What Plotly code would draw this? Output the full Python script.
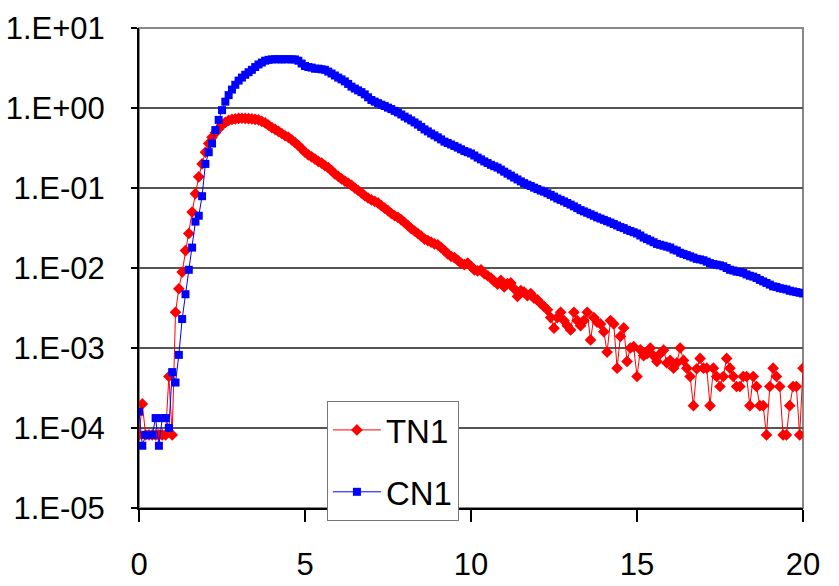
import plotly.graph_objects as go

# sampling grid (time, step 0.1 from 0 to 20)
time = [round(0.1 * i, 1) for i in range(201)]

tn1 = [
    8.2e-5, 2.0e-4, 8.2e-5, 8.2e-5, 8.2e-5, 8.2e-5, 8.2e-5, 8.2e-5, 8.2e-5, 4.4e-4,
    8.2e-5, 2.8e-3, 5.5e-3, 8.9e-3, 1.65e-2, 2.7e-2, 5.0e-2, 8.5e-2, 0.138, 0.2,
    0.28, 0.36, 0.43, 0.49, 0.55, 0.61, 0.66, 0.70, 0.72, 0.73,
    0.74, 0.745, 0.74, 0.735, 0.73, 0.72, 0.71, 0.68, 0.65, 0.61,
    0.57, 0.54, 0.51, 0.48, 0.45, 0.43, 0.40, 0.37, 0.34, 0.31,
    0.28, 0.26, 0.245, 0.23, 0.215, 0.205, 0.19, 0.18, 0.165, 0.15,
    0.14, 0.13, 0.122, 0.115, 0.108, 0.10, 0.093, 0.087, 0.08, 0.075,
    0.071, 0.068, 0.065, 0.06, 0.056, 0.052, 0.048, 0.045, 0.043, 0.04,
    0.037, 0.034, 0.031, 0.029, 0.027, 0.025, 0.023, 0.022, 0.021, 0.02,
    0.0195, 0.018, 0.0165, 0.015, 0.014, 0.0135, 0.0125, 0.0115, 0.011, 0.0115,
    0.0105, 0.0095, 0.0092, 0.0095, 0.0085, 0.008, 0.0075, 0.0068, 0.0063, 0.007,
    0.0058, 0.0064, 0.0065, 0.0055, 0.0044, 0.0052, 0.005, 0.0045, 0.0048, 0.0042,
    4.0e-3, 3.6e-3, 3.3e-3, 3.0e-3, 2.4e-3, 1.77e-3, 2.4e-3, 2.8e-3, 2.2e-3, 1.9e-3,
    1.68e-3, 2.8e-3, 2.2e-3, 1.9e-3, 2.2e-3, 2.8e-3, 1.26e-3, 2.4e-3, 2.1e-3, 2.0e-3,
    1.6e-3, 8.9e-4, 2.2e-3, 2.0e-3, 5.6e-4, 1.4e-3, 1.78e-3, 6.8e-4, 1.0e-3, 1.04e-3,
    4.4e-4, 9.5e-4, 8.0e-4, 8.5e-4, 1.0e-3, 8.0e-4, 6.8e-4, 8.5e-4, 9.4e-4, 6.5e-4,
    7.0e-4, 5.6e-4, 6.5e-4, 1.0e-3, 7.0e-4, 5.6e-4, 4.4e-4, 1.9e-4, 5.5e-4, 7.4e-4,
    5.6e-4, 5.6e-4, 1.9e-4, 5.6e-4, 4.4e-4, 3.3e-4, 4.4e-4, 7.4e-4, 5.6e-4, 4.4e-4,
    3.3e-4, 3.3e-4, 4.4e-4, 4.4e-4, 1.9e-4, 4.4e-4, 3.3e-4, 1.9e-4, 1.9e-4, 8.2e-5,
    3.3e-4, 5.6e-4, 4.4e-4, 3.3e-4, 8.2e-5, 8.2e-5, 1.9e-4, 3.3e-4, 3.3e-4, 8.2e-5,
    5.6e-4,
]

cn1 = [
    1.6e-4, 6.0e-5, 8.2e-5, 8.2e-5, 8.2e-5, 1.33e-4, 6.0e-5, 1.33e-4, 1.33e-4, 1.0e-4,
    5.0e-4, 3.7e-4, 8.2e-4, 2.3e-3, 4.7e-3, 9.5e-3, 1.8e-2, 3.8e-2, 4.5e-2, 7.9e-2,
    0.2, 0.28, 0.36, 0.53, 0.71, 0.94, 1.2, 1.45, 1.7, 1.95,
    2.2, 2.4, 2.6, 2.8, 3.0, 3.25, 3.5, 3.7, 3.9, 4.0,
    4.05, 4.07, 4.07, 4.05, 4.07, 4.07, 4.05, 4.05, 3.9, 3.6,
    3.35, 3.25, 3.2, 3.1, 3.1, 3.05, 3.0, 2.85, 2.7, 2.55,
    2.4, 2.28, 2.15, 2.0, 1.85, 1.75, 1.66, 1.58, 1.48, 1.36,
    1.26, 1.2, 1.15, 1.1, 1.06, 1.01, 0.97, 0.92, 0.88, 0.83,
    0.78, 0.74, 0.70, 0.66, 0.62, 0.58, 0.54, 0.51, 0.48, 0.455,
    0.43, 0.405, 0.38, 0.365, 0.35, 0.335, 0.32, 0.305, 0.29, 0.28,
    0.27, 0.255, 0.24, 0.228, 0.215, 0.205, 0.195, 0.187, 0.18, 0.17,
    0.16, 0.151, 0.143, 0.135, 0.128, 0.121, 0.115, 0.11, 0.106, 0.101,
    0.097, 0.093, 0.09, 0.086, 0.082, 0.078, 0.074, 0.071, 0.068, 0.065,
    0.062, 0.059, 0.056, 0.053, 0.051, 0.049, 0.047, 0.045, 0.043, 0.0415,
    0.040, 0.0385, 0.037, 0.0355, 0.034, 0.0325, 0.0315, 0.030, 0.029, 0.028,
    0.027, 0.0255, 0.024, 0.023, 0.022, 0.021, 0.020, 0.0195, 0.019, 0.0185,
    0.018, 0.017, 0.0165, 0.0155, 0.015, 0.0145, 0.014, 0.0135, 0.013, 0.0128,
    0.0125, 0.012, 0.0115, 0.0112, 0.011, 0.0108, 0.0105, 0.010, 0.0095, 0.0093,
    0.009, 0.0089, 0.0087, 0.0083, 0.008, 0.0078, 0.0075, 0.0071, 0.0068, 0.0065,
    0.0062, 0.0059, 0.0058, 0.0056, 0.0055, 0.0054, 0.0052, 0.0051, 0.005, 0.0049,
    0.0048,
]

y_tickvals = [1e-5, 1e-4, 1e-3, 1e-2, 1e-1, 1e0, 1e1]
y_ticktext = ["1.E-05", "1.E-04", "1.E-03", "1.E-02", "1.E-01", "1.E+00", "1.E+01"]
x_tickvals = [0, 5, 10, 15, 20]

FONT = "Liberation Sans, Arial, sans-serif"

fig = go.Figure()
fig.add_trace(go.Scatter(
    x=time, y=tn1, name="TN1", mode="lines+markers", legendgroup="a",
    line=dict(color="#FF0000", width=1),
    marker=dict(symbol="diamond", size=9, color="#FF0000"),
))
fig.add_trace(go.Scatter(
    x=time, y=cn1, name="CN1", mode="lines+markers", legendgroup="b",
    line=dict(color="#0000FF", width=1),
    marker=dict(symbol="square", size=8, color="#0000FF"),
))

fig.update_layout(
    width=839, height=586,
    margin=dict(l=139, r=36, t=28, b=78),
    paper_bgcolor="white", plot_bgcolor="white",
    font=dict(family=FONT, size=31, color="black"),
    showlegend=True,
    legend=dict(
        x=0.283, y=0.223, xanchor="left", yanchor="top",
        bgcolor="white", bordercolor="#777", borderwidth=1,
        font=dict(family=FONT, size=33, color="black"),
        tracegroupgap=16, itemwidth=48,
    ),
    shapes=[dict(type="rect", xref="paper", yref="paper", x0=0, y0=0, x1=1, y1=1,
                 line=dict(color="#888", width=2), layer="below")],
)
fig.update_xaxes(
    range=[0, 20], tickvals=x_tickvals, ticks="outside", ticklen=12, tickwidth=2,
    tickcolor="black", showline=True, linecolor="black", linewidth=2,
    showgrid=False, zeroline=False, ticklabelstandoff=16, automargin=False,
    tickfont=dict(family=FONT, size=31),
)
fig.update_yaxes(
    type="log", range=[-5, 1], tickvals=y_tickvals, ticktext=y_ticktext,
    ticks="outside", ticklen=6, tickwidth=2, tickcolor="black",
    showline=True, linecolor="black", linewidth=2, automargin=False,
    showgrid=True, gridcolor="#555", gridwidth=2, ticklabelstandoff=20,
    tickfont=dict(family=FONT, size=31),
)

fig.write_html("out.html")
